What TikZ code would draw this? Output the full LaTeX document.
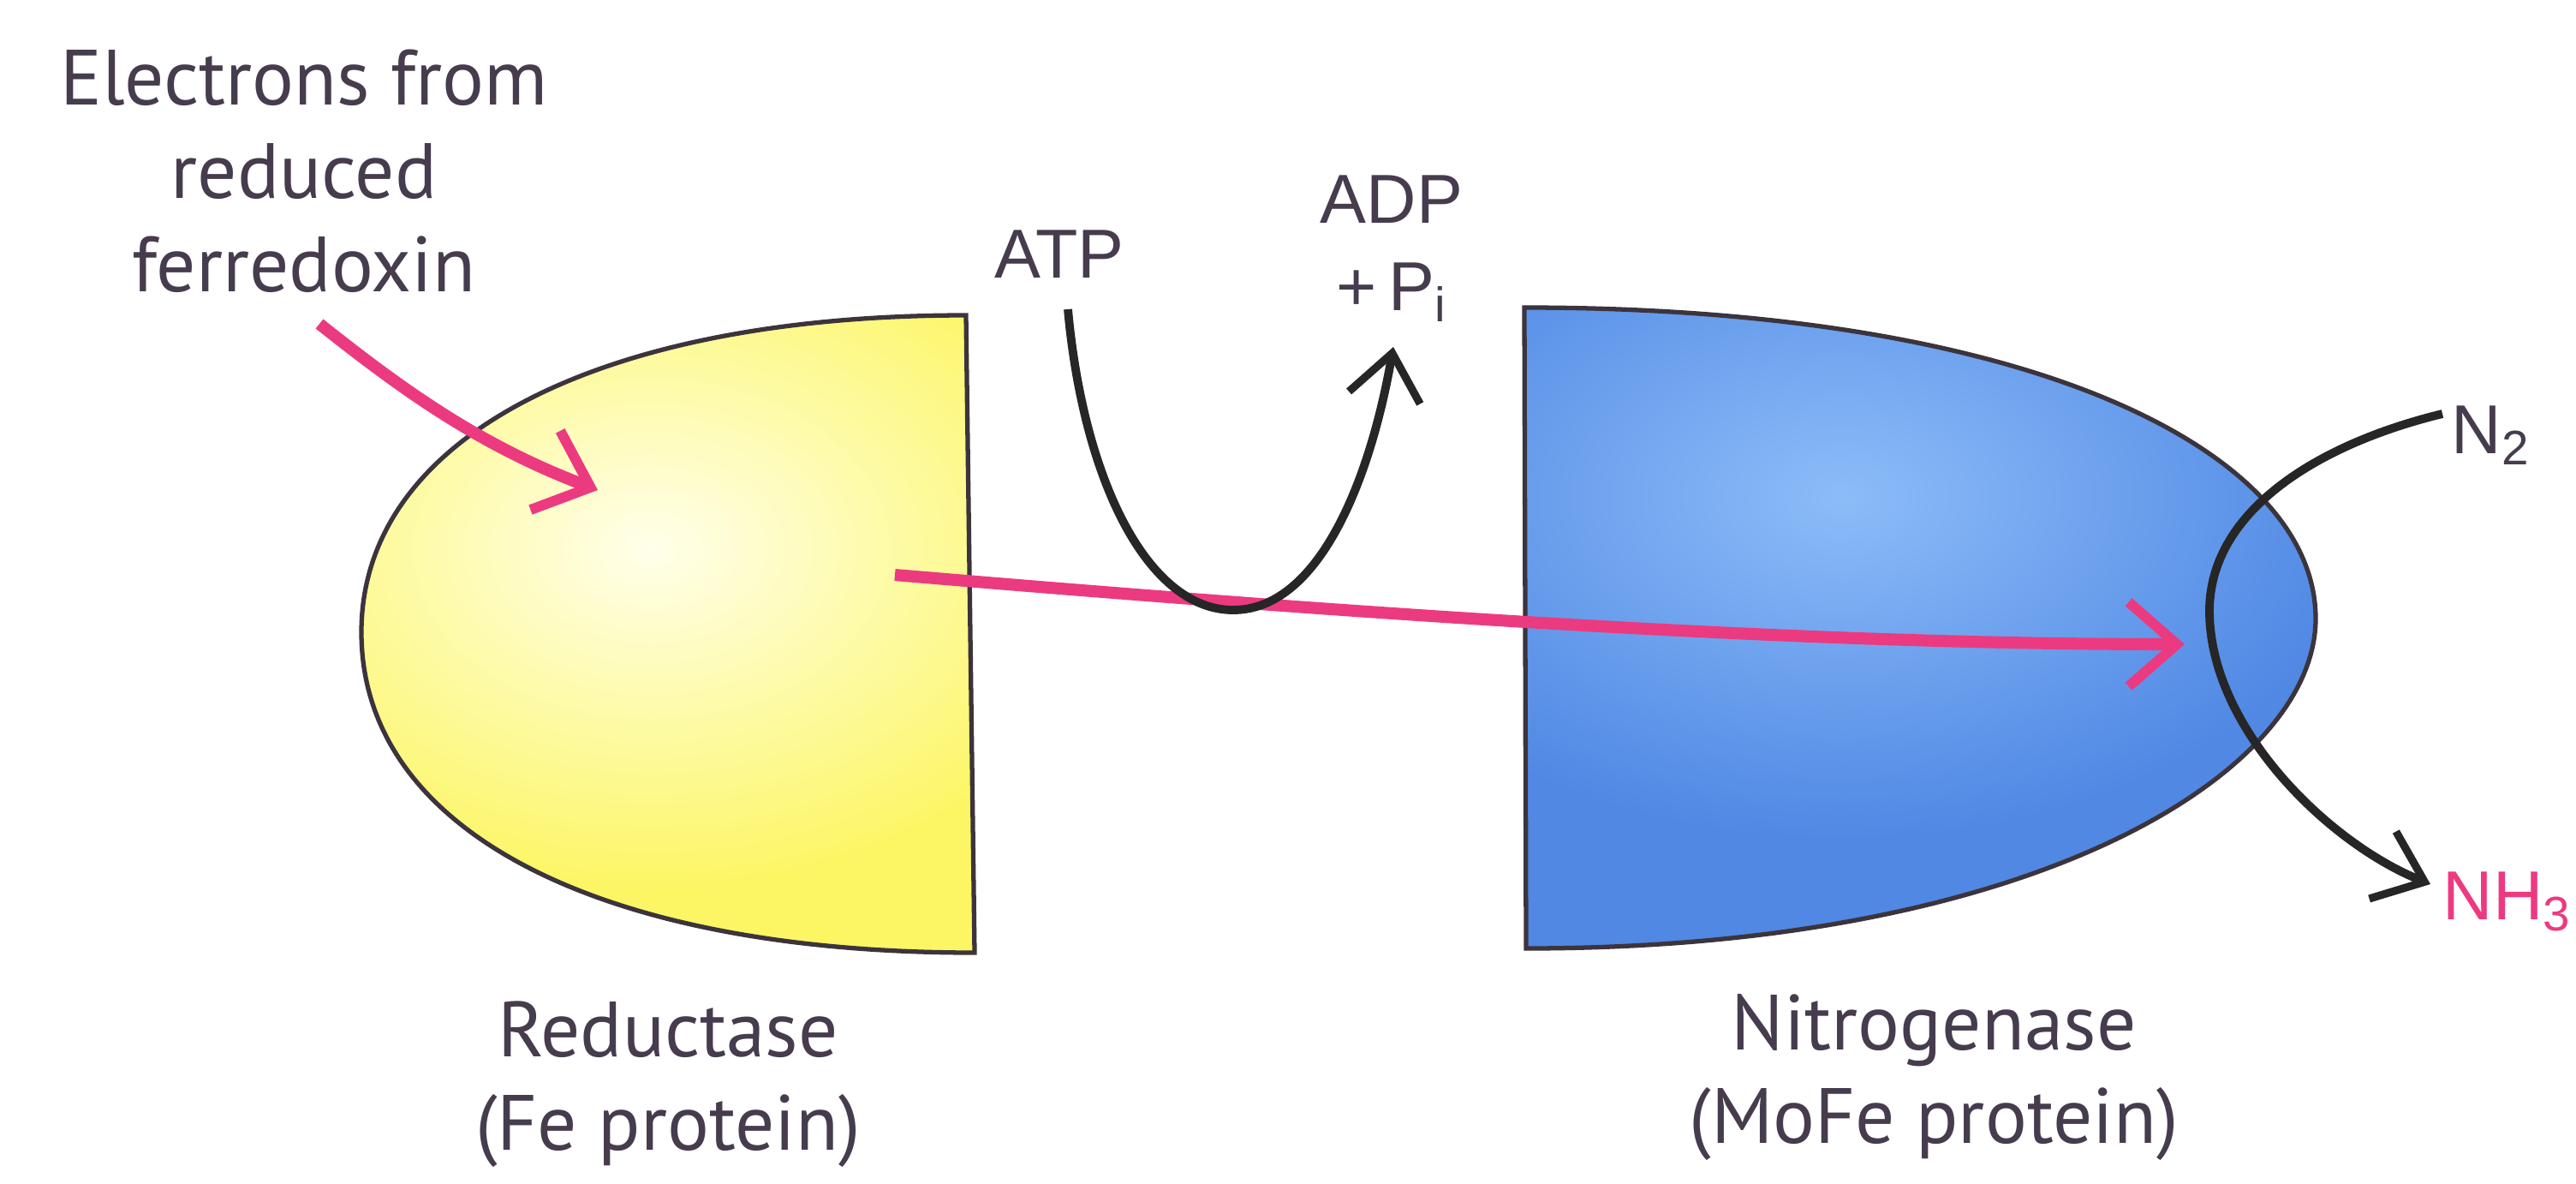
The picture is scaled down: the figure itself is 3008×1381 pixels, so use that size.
\documentclass[tikz,border=0pt]{standalone}
\usepackage{fontspec}
\setmainfont{PT Sans}
\newfontfamily\arialf{Liberation Sans}
\usetikzlibrary{arrows.meta}
\definecolor{pinkc}{RGB}{236,58,128}
\definecolor{txtc}{RGB}{70,60,78}
\definecolor{outl}{RGB}{60,52,60}
\definecolor{yel}{RGB}{252,246,100}
\definecolor{yellight}{RGB}{255,255,235}
\definecolor{blu}{RGB}{80,136,228}
\definecolor{blulight}{RGB}{140,188,248}
\begin{document}
\begin{tikzpicture}[x=0.01cm,y=-0.01cm,
  lbl/.style={text=txtc, font=\fontsize{26}{31}\selectfont, align=center, inner sep=0pt},
  chem/.style={text=txtc, font=\arialf\fontsize{23}{27}\selectfont, align=center, inner sep=0pt},
  pinkarrow/.style={draw=pinkc, line width=4pt, -{Straight Barb[length=16pt,width=28pt,line width=3.4pt]}},
  blackarrow/.style={draw=black!85, line width=2.8pt, -{Straight Barb[length=15pt,width=24pt,line width=2.6pt]}},
  outline/.style={draw=outl, line width=1.5pt}]
\useasboundingbox (0,0) rectangle (3008,1381);
\fill[white] (0,0) rectangle (3008,1381);

% Reductase (yellow)
\begin{scope}
\clip (1128,368) -- (1138,1112) .. controls (700,1112) and (422,970) .. (422,738) .. controls (422,510) and (700,368) .. (1128,368) -- cycle;
\fill[yel] (300,300) rectangle (1200,1200);
\shade[inner color=yellight, outer color=yel] (760,640) ellipse[x radius=560, y radius=400];
\end{scope}
\draw[outline] (1128,368) -- (1138,1112) .. controls (700,1112) and (422,970) .. (422,738) .. controls (422,510) and (700,368) .. (1128,368) -- cycle;

% Nitrogenase (blue)
\begin{scope}
\clip (1780,359) -- (1782,1107) .. controls (2380,1107) and (2704,900) .. (2704,722) .. controls (2704,530) and (2380,359) .. (1780,359) -- cycle;
\fill[blu] (1700,300) rectangle (2800,1200);
\shade[inner color=blulight, outer color=blu] (2150,580) ellipse[x radius=620, y radius=400];
\end{scope}
\draw[outline] (1780,359) -- (1782,1107) .. controls (2380,1107) and (2704,900) .. (2704,722) .. controls (2704,530) and (2380,359) .. (1780,359) -- cycle;

% text
\node[lbl] (electrons) at (355,200) {Electrons from\\reduced\\ferredoxin};
\node[chem] (atp) at (1237,297) {ATP};
\node[chem] (adp) at (1625,290) {ADP\\[2pt]+\,P\textsubscript{i}};
\node[chem, anchor=west] (n2) at (2862,508) {N\textsubscript{2}};
\node[chem, anchor=west, text=pinkc] (nh3) at (2852,1052) {NH\textsubscript{3}};
\node[lbl] (red) at (780,1266) {Reductase\\(Fe protein)};
\node[lbl] (nit) at (2258,1258) {Nitrogenase\\(MoFe protein)};

% connector end points
\coordinate (fdstart) at (373,378);
\coordinate (fdend) at (698,572);
\coordinate (estart) at (1045,671);
\coordinate (eend) at (2551,752);
\coordinate (atpstart) at (1247,361);
\coordinate (atpbottom) at (1440,712);
\coordinate (adpend) at (1627,405);
\coordinate (n2start) at (2852,483);
\coordinate (loop) at (2580,713);
\coordinate (nh3end) at (2838,1032);

% pink electron arrows
\draw[pinkarrow] (fdstart) .. controls (470,455) and (560,520) .. (fdend);
\draw[pinkarrow] (estart) .. controls (1600,718) and (2100,752) .. (eend);

% ATP hydrolysis
\draw[blackarrow] (atpstart) .. controls (1265,560) and (1340,712) .. (atpbottom) .. controls (1540,712) and (1600,560) .. (adpend);

% N2 -> NH3
\draw[blackarrow] (n2start) .. controls (2700,520) and (2580,600) .. (loop) .. controls (2580,850) and (2720,985) .. (nh3end);
\end{tikzpicture}
\end{document}
